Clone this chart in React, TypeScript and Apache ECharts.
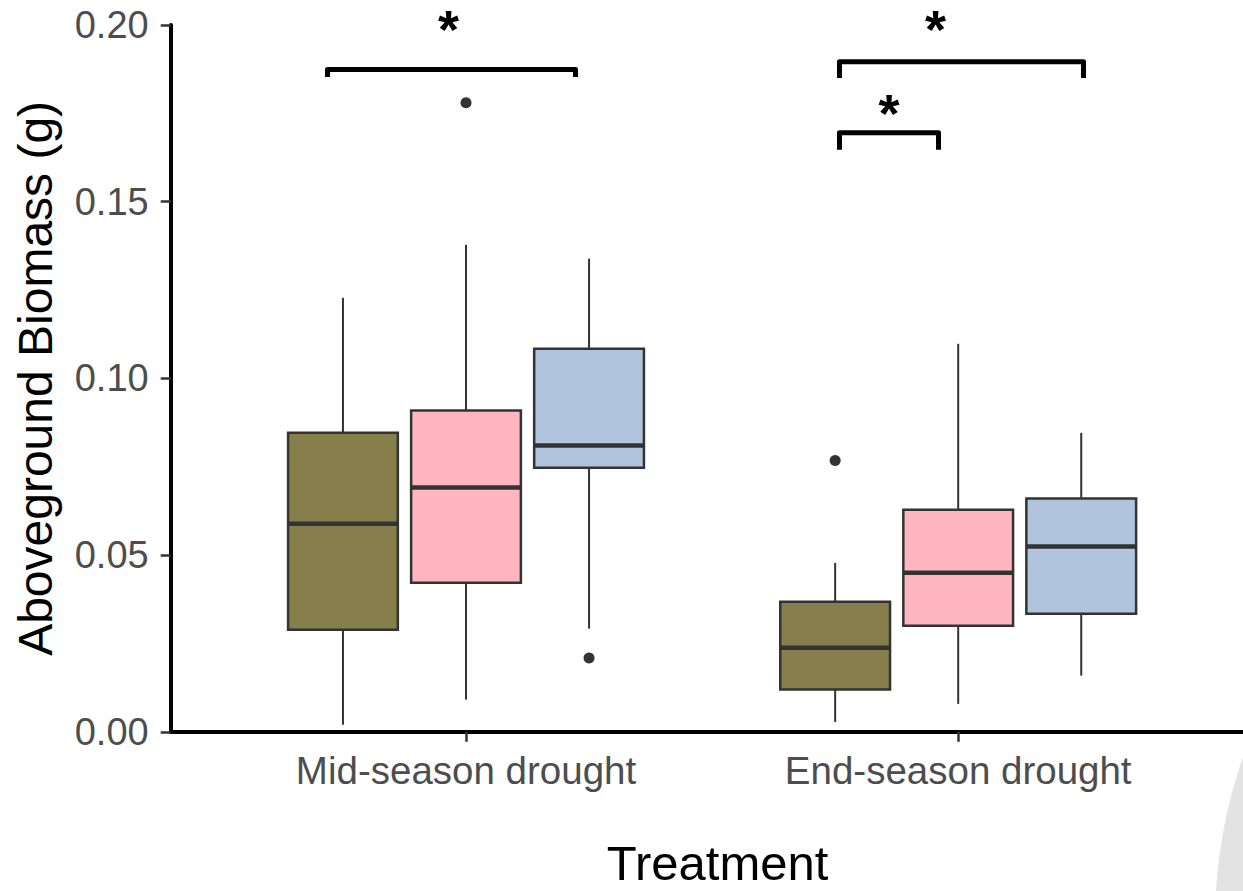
import React, { useEffect, useRef } from "react";
import * as echarts from "echarts";

// ---- data ----
const categories = ["Mid-season drought", "End-season drought"];
// [min whisker, Q1, median, Q3, max whisker] per category
const oliveStats = [
  [0.002, 0.0289, 0.0589, 0.0846, 0.1228],
  [0.0028, 0.012, 0.0238, 0.0368, 0.0478],
];
const pinkStats = [
  [0.0091, 0.0422, 0.0691, 0.0909, 0.1378],
  [0.0079, 0.03, 0.045, 0.0628, 0.1098],
];
const blueStats = [
  [0.0292, 0.0747, 0.081, 0.1084, 0.1339],
  [0.0159, 0.0334, 0.0524, 0.066, 0.0846],
];
// outliers: [category index, value]
const oliveOutliers = [[1, 0.0768]];
const pinkOutliers = [[0, 0.178]];
const blueOutliers = [[0, 0.0209]];
// significance brackets: [xmin, xmax, y, tickEnd, starX, starTopY]
const brackets = [
  [0.7186, 1.2225, 0.1874, 0.1853, 0.9644, 0.2065],
  [1.7588, 2.2546, 0.1896, 0.185, 1.9537, 0.2065],
  [1.7588, 1.96, 0.1695, 0.1647, 1.8594, 0.1828],
];
const yTicks = [0, 0.05, 0.1, 0.15, 0.2];

const groups = [
  { name: "olive", stats: oliveStats, outliers: oliveOutliers, color: "#877F4B" },
  { name: "pink", stats: pinkStats, outliers: pinkOutliers, color: "#FFB6C1" },
  { name: "blue", stats: blueStats, outliers: blueOutliers, color: "#B0C4DE" },
];

const DODGE = 0.25;
const BOX_W = 0.223;
const FONT = "'Liberation Sans', Arial, Helvetica, sans-serif";

export default function App() {
  const ref = useRef<HTMLDivElement>(null);
  useEffect(() => {
    if (!ref.current) return;
    const chart = echarts.init(ref.current, null, { renderer: "svg" });

    const boxSeries: any[] = groups.map((g, gi) => ({
      type: "custom",
      name: g.name,
      clip: false,
      data: g.stats.map((s, ci) => [ci + 1 + (gi - 1) * DODGE, ...s]),
      renderItem: (params: any, api: any) => {
        const x = api.value(0);
        const pMin = api.coord([x, api.value(1)]);
        const pQ1 = api.coord([x, api.value(2)]);
        const pMed = api.coord([x, api.value(3)]);
        const pQ3 = api.coord([x, api.value(4)]);
        const pMax = api.coord([x, api.value(5)]);
        const hw = api.size([BOX_W, 0])[0] / 2;
        const cx = pMed[0];
        const wStyle = { stroke: "#333333", lineWidth: 2 };
        return {
          type: "group",
          children: [
            { type: "line", shape: { x1: cx, y1: pMax[1], x2: cx, y2: pQ3[1] }, style: wStyle },
            { type: "line", shape: { x1: cx, y1: pQ1[1], x2: cx, y2: pMin[1] }, style: wStyle },
            {
              type: "rect",
              shape: { x: cx - hw, y: pQ3[1], width: hw * 2, height: pQ1[1] - pQ3[1] },
              style: { fill: g.color, stroke: "#333333", lineWidth: 2.5 },
            },
            {
              type: "line",
              shape: { x1: cx - hw, y1: pMed[1], x2: cx + hw, y2: pMed[1] },
              style: { stroke: "#333333", lineWidth: 4.5 },
            },
          ],
        };
      },
    }));

    const outlierSeries: any[] = groups.map((g, gi) => ({
      type: "scatter",
      name: g.name + " outliers",
      symbol: "circle",
      symbolSize: 11,
      itemStyle: { color: "#333333", opacity: 1 },
      data: g.outliers.map((o) => [o[0] + 1 + (gi - 1) * DODGE, o[1]]),
    }));

    const bracketSeries = {
      type: "custom",
      name: "significance",
      clip: false,
      data: brackets,
      renderItem: (params: any, api: any) => {
        const a = api.coord([api.value(0), api.value(3)]);
        const b = api.coord([api.value(0), api.value(2)]);
        const c = api.coord([api.value(1), api.value(2)]);
        const d = api.coord([api.value(1), api.value(3)]);
        const s = api.coord([api.value(4), api.value(5)]);
        return {
          type: "group",
          children: [
            {
              type: "polyline",
              shape: { points: [a, b, c, d] },
              style: { stroke: "#000000", lineWidth: 5, fill: "none", lineJoin: "round" },
            },
            {
              type: "text",
              x: s[0],
              y: s[1],
              style: {
                text: "*",
                fontSize: 54,
                fontWeight: "bold",
                fontFamily: FONT,
                fill: "#000000",
                align: "center",
                verticalAlign: "top",
              },
            },
          ],
        };
      },
    };

    chart.setOption({
      animation: false,
      textStyle: { fontFamily: FONT },
      grid: { left: 170.7, width: 1082.8, top: 25, bottom: 159.2, containLabel: false, outerBoundsMode: "none" },
      graphic: [
        {
          type: "circle",
          z: -10,
          shape: { cx: 1715, cy: 922, r: 500 },
          style: { fill: "#e3e3e3" },
          silent: true,
        },
      ],
      xAxis: {
        type: "value",
        min: 0.4,
        max: 2.6,
        name: "Treatment",
        nameLocation: "middle",
        nameGap: 111,
        nameTextStyle: {
          fontSize: 49,
          lineHeight: 40,
          color: "#000000",
          fontFamily: FONT,
          padding: [0, 0, 0, 11],
        },
        axisLine: { show: true, lineStyle: { color: "#000000", width: 4 } },
        axisTick: {
          show: true,
          customValues: [1, 2],
          length: 10,
          lineStyle: { color: "#333333", width: 2.5 },
        },
        axisLabel: {
          show: true,
          customValues: [1, 2],
          formatter: (v: number) => categories[Math.round(v) - 1] ?? "",
          fontSize: 38.5,
          color: "#4d4d4d",
          margin: 19,
          fontFamily: FONT,
        },
        splitLine: { show: false },
      },
      yAxis: {
        type: "value",
        min: 0,
        max: 0.2,
        interval: 0.05,
        name: "Aboveground Biomass (g)",
        nameLocation: "middle",
        nameGap: 111,
        nameTextStyle: { fontSize: 48, color: "#000000", fontFamily: FONT },
        axisLine: { show: true, lineStyle: { color: "#000000", width: 4 } },
        axisTick: { show: true, length: 10, lineStyle: { color: "#333333", width: 2.5 } },
        axisLabel: {
          fontSize: 38,
          color: "#4d4d4d",
          margin: 22,
          fontFamily: FONT,
          formatter: (v: number) => (yTicks.some((t) => Math.abs(t - v) < 1e-9) ? v.toFixed(2) : ""),
        },
        splitLine: { show: false },
      },
      series: [...boxSeries, ...outlierSeries, bracketSeries],
    });
    return () => chart.dispose();
  }, []);
  return (
    <div
      style={{ position: "fixed", left: 0, top: 0, width: 1243, height: 891, overflow: "hidden", background: "#ffffff" }}
    >
      <div ref={ref} style={{ width: 1243, height: 891, overflow: "hidden" }} />
    </div>
  );
}
